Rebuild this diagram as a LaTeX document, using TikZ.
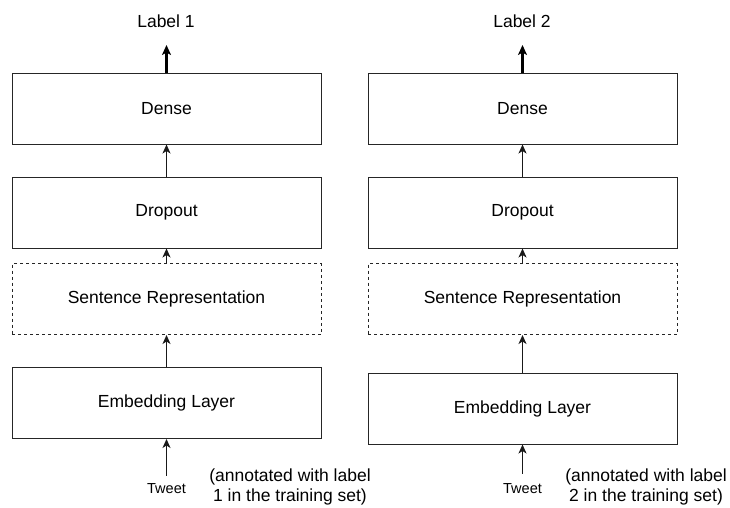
\documentclass[tikz,border=0pt]{standalone}
\usepackage{fontspec}
\setmainfont{Liberation Sans}
\usetikzlibrary{arrows.meta}
\begin{document}
\begin{tikzpicture}[x=1pt,y=-1pt,
  layer/.style={draw=black!85, line width=1pt, rectangle, minimum width=309pt, minimum height=71pt, inner sep=0pt, font=\fontsize{17.5}{20}\selectfont},
  dlayer/.style={layer, dash pattern=on 3pt off 3pt},
  conn/.style={draw=black!90, line width=1.1pt, -{Stealth[length=9pt,width=8pt,inset=2.5pt]}},
  outconn/.style={draw=black, line width=2.4pt, -{Stealth[length=10pt,width=9pt,inset=2.5pt]}},
  txt/.style={font=\fontsize{17.5}{20}\selectfont, inner sep=0pt},
  tweet/.style={font=\fontsize{14.5}{16}\selectfont, anchor=base, inner sep=7pt},
  annot/.style={font=\fontsize{17.5}{20}\selectfont, align=center, inner sep=0pt}
]
\useasboundingbox (0,0) rectangle (730,507);
% left column
\node[layer] (d1) at (166.5,108.5) {Dense};
\node[layer] (p1) at (166.5,212.5) {Dropout};
\node[dlayer] (s1) at (166.5,299) {Sentence Representation};
\node[layer] (e1) at (166.5,403) {Embedding Layer};
\node[txt] (l1) at (166,21) {Label 1};
\coordinate (t1) at (166.5,45);
\node[tweet] (w1) at (166.5,493) {Tweet};
\node[annot] (a1) at (290,487) {(annotated with label\\1 in the training set)};
\draw[outconn] (d1.north) -- (t1);
\draw[conn] (p1.north) -- (d1.south);
\draw[conn] (s1.north) -- (p1.south);
\draw[conn] (e1.north) -- (s1.south);
\draw[conn] (w1.north) -- (e1.south);
% right column
\node[layer] (d2) at (522.5,108.5) {Dense};
\node[layer] (p2) at (522.5,212.5) {Dropout};
\node[dlayer] (s2) at (522.5,299) {Sentence Representation};
\node[layer] (e2) at (522.5,408.5) {Embedding Layer};
\node[txt] (l2) at (522,21) {Label 2};
\coordinate (t2) at (522.5,45);
\node[tweet, inner sep=9pt] (w2) at (522.5,493) {Tweet};
\node[annot] (a2) at (646,487) {(annotated with label\\2 in the training set)};
\draw[outconn] (d2.north) -- (t2);
\draw[conn] (p2.north) -- (d2.south);
\draw[conn] (s2.north) -- (p2.south);
\draw[conn] (e2.north) -- (s2.south);
\draw[conn] (w2.north) -- (e2.south);
\end{tikzpicture}
\end{document}
